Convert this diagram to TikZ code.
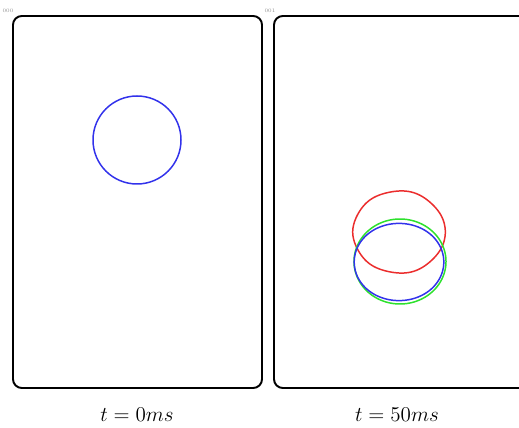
\documentclass[tikz,border=0pt]{standalone}
\usepackage{amsmath}
\definecolor{simblue}{RGB}{50,50,235}
\definecolor{simred}{RGB}{235,45,45}
\definecolor{simgreen}{RGB}{45,225,45}
\usetikzlibrary{positioning}

\begin{document}
\begin{tikzpicture}[x=0.02cm,y=-0.02cm,
  frame/.style={line width=1.1pt, rounded corners=5pt},
  bubble/.style={line width=0.85pt},
  interface/.style={bubble, domain=0:360, samples=121, variable=\a},
  caption/.style={font=\fontsize{13}{15}\selectfont},
  tag/.style={font=\fontsize{3}{3}\selectfont, text=black!45, inner sep=0pt}]
  \useasboundingbox (0,0) rectangle (519,428);
  \clip (0,0) rectangle (519,428);

  % Frame t = 0
  \draw[frame] (13,16) rectangle (262,388);
  \node[tag] (tag0) at (8,11) {000};
  \draw[bubble, simblue] (137,140) circle[radius=44];
  \node[caption] (cap0) at (137,415) {$t=0ms$};

  % Frame t = 50
  \draw[frame] (274,16) rectangle (540,388);
  \node[tag] (tag1) at (270,11) {001};
  \draw[interface, simred] plot ({399+46*cos(\a)-1.5*sin(2*\a)*0+0.3*cos(5*\a)}, {232+41*sin(\a)+0.4*sin(6*\a)}) -- cycle;
  \draw[interface, simgreen] plot ({400+46*cos(\a)}, {261.5+42.5*sin(\a)}) -- cycle;
  \draw[interface, simblue] plot ({399+44.5*cos(\a)+0.3*cos(3*\a)}, {262+39*sin(\a)+0.4*sin(3*\a)}) -- cycle;
  \node[caption] (cap1) at (397,415) {$t=50ms$};
\end{tikzpicture}
\end{document}
